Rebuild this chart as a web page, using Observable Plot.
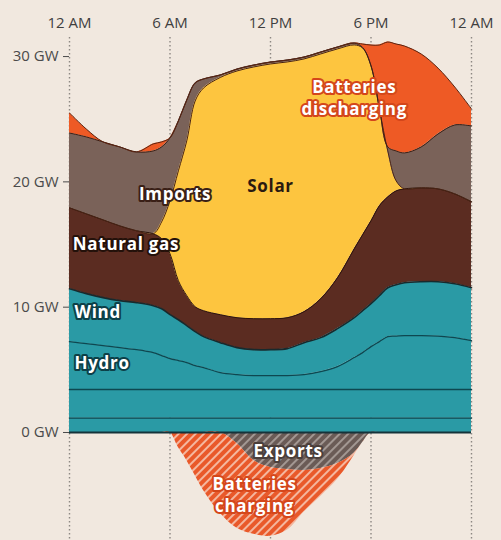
<!DOCTYPE html>
<html><head><meta charset="utf-8">
<script src="https://cdn.jsdelivr.net/npm/d3@7"></script>
<script src="https://cdn.jsdelivr.net/npm/@observablehq/plot@0.6"></script>
<style>
html,body{margin:0;padding:0;background:#f1e8df;}
#chart g[aria-label="text"] text{letter-spacing:0.7px;}
</style></head><body><div id="chart"></div>
<script>
// ---- data (GW) ----
const hours = [0,1,2,3,4,5,5.5,6,6.5,7,7.5,8,9,10,11,12,13,14,15,16,17,17.5,18,18.5,19,19.5,20,21,22,23,24];
const other   = [1.14,1.14,1.14,1.14,1.14,1.14,1.14,1.14,1.14,1.14,1.14,1.14,1.14,1.14,1.14,1.14,1.14,1.14,1.14,1.14,1.14,1.14,1.14,1.14,1.14,1.14,1.14,1.14,1.14,1.14,1.14];
const nuclear = [2.29,2.29,2.29,2.29,2.29,2.29,2.29,2.29,2.29,2.29,2.29,2.29,2.29,2.29,2.29,2.29,2.29,2.29,2.29,2.29,2.29,2.29,2.29,2.29,2.29,2.29,2.29,2.29,2.29,2.29,2.29];
const hydro   = [3.82,3.66,3.50,3.34,3.18,2.94,2.71,2.47,2.31,2.15,1.91,1.75,1.35,1.19,1.11,1.11,1.11,1.19,1.43,1.83,2.55,2.94,3.42,3.82,4.22,4.26,4.30,4.30,4.26,4.14,3.90];
const wind    = [4.22,3.99,3.83,3.75,3.75,3.75,3.74,3.50,3.26,2.95,2.71,2.47,2.39,2.15,2.07,2.07,2.15,2.55,2.71,3.03,3.18,3.35,3.43,3.67,3.90,4.10,4.22,4.30,4.34,4.30,4.22];
const gas     = [6.46,6.37,6.21,5.97,5.74,5.74,5.58,4.86,3.11,2.39,1.99,2.07,2.23,2.39,2.47,2.47,2.47,2.47,3.11,4.06,5.50,6.06,6.61,7.17,7.25,7.49,7.49,7.49,7.41,7.17,6.86];
const solar   = [0,0,0,0,0,0,1.35,4.23,8.77,12.35,16.41,17.77,18.93,19.69,20.09,20.33,20.41,20.17,19.53,18.26,16.27,14.90,12.35,7.73,3.67,0.80,0,0,0,0,0];
const imports = [5.97,6.14,6.22,6.30,6.29,6.61,5.98,5.02,3.98,3.26,1.44,0.72,0.20,0.15,0.15,0.15,0.15,0.15,0.15,0.15,0.15,0.05,0.05,0.10,0.32,2.39,2.87,3.27,4.38,5.50,6.05];
const discharging = [1.60,0.63,0,0,0,0.56,0.40,0,0,0,0,0,0,0,0,0,0,0,0,0,0,0.27,1.63,5.00,8.37,8.53,8.53,7.41,5.26,3.03,1.36];
const exportsGW = [0,0,0,0,0,0,0,0,0,0,0,0,0,0.88,2.23,2.79,2.95,3.03,2.87,2.47,1.65,0.80,0,0,0,0,0,0,0,0,0];
const charging  = [0,0,0,0,0,0,0,0,1.20,2.23,3.43,4.62,6.45,6.77,5.90,5.50,4.86,3.34,2.23,1.28,0.18,0,0,0,0,0,0,0,0,0,0];

const tickHours  = [0,6,12,18,24];
const tickLabels = ["12 AM","6 AM","12 PM","6 PM","12 AM"];
const yTicks     = [0,10,20,30];

const positiveSeries = [["Other",other],["Nuclear",nuclear],["Hydro",hydro],["Wind",wind],["Natural gas",gas],["Solar",solar],["Imports",imports],["Batteries discharging",discharging]];
const negativeSeries = [["Exports",exportsGW],["Batteries charging",charging]];

// ---- styles ----
const styles = {
  "Other":   {fill:"#2a9aa5", line:"#0e4750", lw:1.3},
  "Nuclear": {fill:"#2a9aa5", line:"#0e4750", lw:1.3},
  "Hydro":   {fill:"#2a9aa5", line:"#0e4750", lw:1.3},
  "Wind":    {fill:"#2a9aa5", line:"#182a2d", lw:1.6},
  "Natural gas": {fill:"#5b2c21", line:"#2e140c", lw:1},
  "Solar":   {fill:"#fdc53f", line:"#4a2414", lw:1},
  "Imports": {fill:"#7a6259", line:"#3d2016", lw:1},
  "Batteries discharging": {fill:"#ee5a25", line:"#5a2412", lw:1},
  "Exports": {fill:"url(#hatchGrey)", line:null},
  "Batteries charging": {fill:"url(#hatchOrange)", line:null}
};

// ---- stacking ----
const layers = [];
const basePos = hours.map(() => 0);
for (const [name, vals] of positiveSeries) {
  const rows = hours.map((h, i) => ({h, y1: basePos[i], y2: basePos[i] + vals[i]}));
  hours.forEach((h, i) => basePos[i] += vals[i]);
  layers.push({name, rows});
}
const baseNeg = hours.map(() => 0);
for (const [name, vals] of negativeSeries) {
  const rows = hours.map((h, i) => ({h, y1: baseNeg[i], y2: baseNeg[i] - vals[i]}));
  hours.forEach((h, i) => baseNeg[i] -= vals[i]);
  layers.push({name, rows});
}

const curve = "catmull-rom";
const font = "'Open Sans', sans-serif";
const labelFont = {fontFamily: font, fontWeight: 700, fontSize: 17, paintOrder: "stroke", strokeWidth: 4, strokeLinejoin: "round"};
const labels = [
  {text:"Imports", h:6.3, v:19.0, anchor:"middle", fill:"white", stroke:"#3a1f16"},
  {text:"Solar", h:12.0, v:19.63, anchor:"middle", fill:"#2a1a10", stroke:null},
  {text:"Natural gas", h:0.2, v:15.0, anchor:"start", fill:"white", stroke:"#24110a"},
  {text:"Wind", h:0.3, v:9.57, anchor:"start", fill:"white", stroke:"#0c4048"},
  {text:"Hydro", h:0.3, v:5.5, anchor:"start", fill:"white", stroke:"#0c4048"},
  {text:"Batteries", h:17.0, v:27.5, anchor:"middle", fill:"white", stroke:"#d4461a"},
  {text:"discharging", h:17.0, v:25.8, anchor:"middle", fill:"white", stroke:"#d4461a"},
  {text:"Exports", h:13.05, v:-1.52, anchor:"middle", fill:"white", stroke:"#4a3e3a"},
  {text:"Batteries", h:11.05, v:-4.15, anchor:"middle", fill:"white", stroke:"#d4461a"},
  {text:"charging", h:11.05, v:-5.95, anchor:"middle", fill:"white", stroke:"#d4461a"}
];

const marks = [
  Plot.ruleX(tickHours, {x: d => d, y1: -8.5, y2: 31.6, stroke: "#8d8883", strokeWidth: 1.4, strokeDasharray: "1.4,2.6"}),
  ...layers.map(l => Plot.areaY(l.rows, {x: "h", y1: "y1", y2: "y2", fill: styles[l.name].fill, curve})),
  ...layers.filter(l => styles[l.name].line).map(l => Plot.lineY(l.rows, {x: "h", y: "y2", stroke: styles[l.name].line, strokeWidth: styles[l.name].lw, curve})),
  Plot.ruleY([0], {stroke: "#15333a", strokeWidth: 1.8}),
  ...labels.map(lb => Plot.text([lb], {x: "h", y: "v", text: "text", textAnchor: lb.anchor, fill: lb.fill, stroke: lb.stroke || "none", ...labelFont})),
  Plot.axisX(tickHours, {anchor: "top", label: null, tickSize: 0, tickPadding: 4, tickFormat: d => tickLabels[tickHours.indexOf(d)], fontSize: 15, fontFamily: font, color: "#3f3f3f"}),
  Plot.axisY(yTicks, {anchor: "left", label: null, tickSize: 6, tickPadding: 5, tickFormat: d => `${d} GW`, fontSize: 15, fontFamily: font, color: "#4a4a4a"})
];

const chart = Plot.plot({
  width: 501,
  height: 540,
  marginLeft: 69,
  marginRight: 30,
  marginTop: 31,
  marginBottom: 1.5,
  style: {background: "#f1e8df", fontFamily: font},
  x: {domain: [0, 24], axis: null},
  y: {domain: [-8.5, 32], axis: null},
  marks
});

const ns = "http://www.w3.org/2000/svg";
const defs = document.createElementNS(ns, "defs");
defs.innerHTML = `
<pattern id="hatchOrange" patternUnits="userSpaceOnUse" width="6" height="6" patternTransform="rotate(45)">
  <rect width="6" height="6" fill="#e9592a"/>
  <line x1="1" y1="0" x2="1" y2="6" stroke="#f7cfbd" stroke-width="1.6"/>
</pattern>
<pattern id="hatchGrey" patternUnits="userSpaceOnUse" width="6" height="6" patternTransform="rotate(45)">
  <rect width="6" height="6" fill="#6a5b56"/>
  <line x1="1" y1="0" x2="1" y2="6" stroke="#b1a7a2" stroke-width="1.6"/>
</pattern>`;
chart.insertBefore(defs, chart.firstChild);
document.getElementById("chart").appendChild(chart);
</script>
</body></html>
